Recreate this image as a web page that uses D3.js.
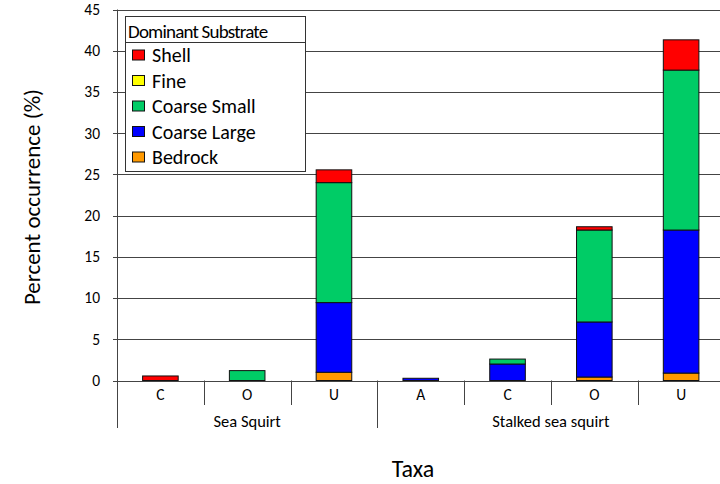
<!DOCTYPE html>
<html>
<head>
<meta charset="utf-8">
<script src="https://cdn.jsdelivr.net/npm/d3@7"></script>
<style>
  html, body { margin: 0; padding: 0; background: #fff; }
  svg { display: block; font-family: Carlito, Lato, "Liberation Sans", sans-serif; }
</style>
</head>
<body>
<svg id="chart" width="720" height="484"></svg>
<script>
// Taxa and abundance classes along the x axis
const groups = ["Sea Squirt", "Stalked sea squirt"];
const categories = [
  { group: "Sea Squirt", code: "C" },
  { group: "Sea Squirt", code: "O" },
  { group: "Sea Squirt", code: "U" },
  { group: "Stalked sea squirt", code: "A" },
  { group: "Stalked sea squirt", code: "C" },
  { group: "Stalked sea squirt", code: "O" },
  { group: "Stalked sea squirt", code: "U" }
];

// Percent occurrence per dominant substrate (stack order bottom to top)
const substrates = ["Bedrock", "Coarse Large", "Coarse Small", "Fine", "Shell"];
const bedrock     = [0,    0,   1.0,  0,    0,   0.42, 0.9];
const coarseLarge = [0,    0,   8.45, 0.27, 2.0, 6.68, 17.35];
const coarseSmall = [0,    1.2, 14.55, 0,   0.6, 11.15, 19.4];
const fine        = [0,    0,   0,    0,    0,   0,    0];
const shell       = [0.55, 0,   1.55, 0,    0,   0.4,  3.67];

const colors = ["#FF9900", "#0000FF", "#00CC66", "#FFFF00", "#FF0000"];
const legendOrder = ["Shell", "Fine", "Coarse Small", "Coarse Large", "Bedrock"];
const yTicks = [0, 5, 10, 15, 20, 25, 30, 35, 40, 45];

const series = [bedrock, coarseLarge, coarseSmall, fine, shell];
const rows = categories.map((c, i) => {
  const r = { key: i };
  substrates.forEach((s, j) => { r[s] = series[j][i]; });
  return r;
});

const svg = d3.select("#chart");
const plotLeft = 117, plotRight = 724.5, plotTop = 9.5, plotBottom = 380.5;

const x = d3.scaleBand()
  .domain(categories.map((c, i) => i))
  .range([plotLeft, plotRight])
  .paddingInner(0.59)
  .paddingOuter(0.295);
const step = x.step();

const y = d3.scaleLinear().domain([0, 45]).range([plotBottom, plotTop]);
const color = d3.scaleOrdinal().domain(substrates).range(colors);

// Horizontal gridlines
svg.append("g")
  .selectAll("line")
  .data(yTicks)
  .join("line")
  .attr("x1", plotLeft - 4)
  .attr("x2", 720)
  .attr("y1", d => Math.round(y(d)) + 0.5)
  .attr("y2", d => Math.round(y(d)) + 0.5)
  .attr("stroke", "#444")
  .attr("stroke-width", 1);

// Y tick labels
svg.append("g")
  .selectAll("text")
  .data(yTicks)
  .join("text")
  .attr("x", 100)
  .attr("y", d => y(d))
  .attr("dy", "0.35em")
  .attr("text-anchor", "end")
  .attr("font-size", 15.5)
  .attr("fill", "#000")
  .text(d => d);

// Stacked bars
const stack = d3.stack().keys(substrates)(rows);
svg.append("g")
  .selectAll("g")
  .data(stack)
  .join("g")
  .attr("fill", d => color(d.key))
  .selectAll("rect")
  .data(d => d.filter(p => p[1] - p[0] > 0))
  .join("rect")
  .attr("x", d => x(d.data.key))
  .attr("width", x.bandwidth())
  .attr("y", d => y(d[1]))
  .attr("height", d => y(d[0]) - y(d[1]))
  .attr("stroke", "#111")
  .attr("stroke-width", 1);

// Axes lines
svg.append("line")
  .attr("x1", plotLeft + 0.5).attr("x2", plotLeft + 0.5)
  .attr("y1", plotTop).attr("y2", 428)
  .attr("stroke", "#444");
svg.append("line")
  .attr("x1", plotLeft).attr("x2", 720)
  .attr("y1", Math.round(plotBottom) + 0.5).attr("y2", Math.round(plotBottom) + 0.5)
  .attr("stroke", "#444");

// Category separators: long ones between groups, short ones within
const sepIdx = d3.range(1, categories.length + 1);
svg.append("g")
  .selectAll("line")
  .data(sepIdx)
  .join("line")
  .attr("x1", i => Math.round(plotLeft + i * step) + 0.5)
  .attr("x2", i => Math.round(plotLeft + i * step) + 0.5)
  .attr("y1", plotBottom)
  .attr("y2", i => (i === 3 || i === categories.length) ? 428 : 405)
  .attr("stroke", "#444");

// Category labels
svg.append("g")
  .selectAll("text")
  .data(categories)
  .join("text")
  .attr("x", (d, i) => x(i) + x.bandwidth() / 2)
  .attr("y", 395)
  .attr("dy", "0.35em")
  .attr("text-anchor", "middle")
  .attr("font-size", 15.5)
  .text(d => d.code);

// Group labels
svg.append("g")
  .selectAll("text")
  .data(groups)
  .join("text")
  .attr("x", g => {
    const idx = categories.map((c, i) => c.group === g ? i : -1).filter(i => i >= 0);
    return (x(idx[0]) + x(idx[idx.length - 1]) + x.bandwidth()) / 2;
  })
  .attr("y", 421)
  .attr("dy", "0.35em")
  .attr("text-anchor", "middle")
  .attr("font-size", 16.5)
  .text(d => d);

// Axis titles
svg.append("text")
  .attr("x", 413).attr("y", 469)
  .attr("dy", "0.35em")
  .attr("text-anchor", "middle")
  .attr("font-size", 24)
  .text("Taxa");
svg.append("text")
  .attr("transform", "translate(32,197) rotate(-90)")
  .attr("dy", "0.35em")
  .attr("text-anchor", "middle")
  .attr("font-size", 23)
  .text("Percent occurrence (%)");

// Legend
const lg = svg.append("g");
lg.append("rect")
  .attr("x", 125.5).attr("y", 16.5)
  .attr("width", 180).attr("height", 155)
  .attr("fill", "#fff").attr("stroke", "#333");
lg.append("line")
  .attr("x1", 125.5).attr("x2", 305.5)
  .attr("y1", 42.5).attr("y2", 42.5)
  .attr("stroke", "#333");
lg.append("text")
  .attr("x", 128).attr("y", 31)
  .attr("dy", "0.35em")
  .attr("font-size", 19)
  .attr("letter-spacing", -0.8)
  .text("Dominant Substrate");
const items = lg.selectAll("g.item")
  .data(legendOrder)
  .join("g")
  .attr("class", "item")
  .attr("transform", (d, i) => `translate(0,${55 + i * 25.5})`);
items.append("rect")
  .attr("x", 132.5).attr("y", -5)
  .attr("width", 12).attr("height", 10)
  .attr("fill", d => color(d))
  .attr("stroke", "#111");
items.append("text")
  .attr("x", 152).attr("y", 0)
  .attr("dy", "0.35em")
  .attr("font-size", 20)
  .text(d => d);
</script>
</body>
</html>
